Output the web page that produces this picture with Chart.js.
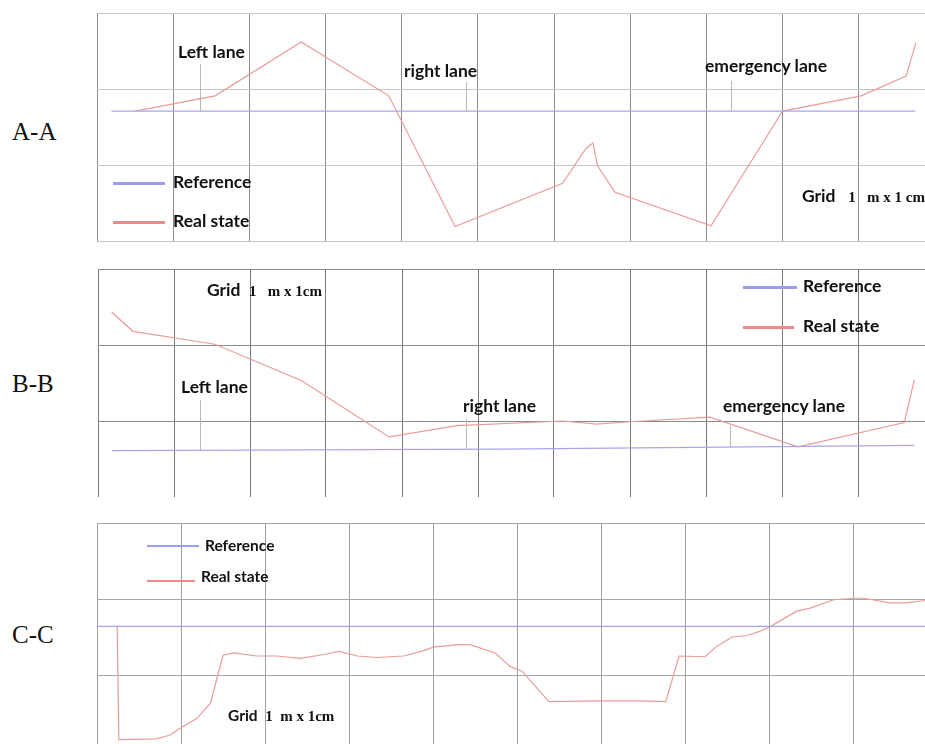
<!DOCTYPE html>
<html>
<head>
<meta charset="utf-8">
<script src="https://cdn.jsdelivr.net/npm/chart.js@4.4.1/dist/chart.umd.min.js"></script>
<style>
  html, body { margin: 0; padding: 0; background: #fff; overflow: hidden; width: 925px; height: 744px; }
  canvas { position: absolute; }
  .lbl { position: absolute; font-family: Lato, "Open Sans", sans-serif; font-weight: 700; font-size: 17.5px; color: #111; white-space: nowrap; line-height: 1; transform: translateY(-55%); }
  .sm { font-size: 15.5px; }
  .sec { position: absolute; font-family: "Liberation Serif", "DejaVu Serif", serif; font-size: 25px; color: #111; line-height: 1; transform: translateY(-50%); }
  .num { font-family: "Liberation Serif", serif; font-size: 15px; }
  .sw { position: absolute; height: 3px; }
  .tick { position: absolute; width: 1px; background: #b8b8b8; }
</style>
</head>
<body>
<div class="sec" style="left:12px; top:131px;">A-A</div>
<div class="sec" style="left:12px; top:383px;">B-B</div>
<div class="sec" style="left:12px; top:634px;">C-C</div>

<canvas id="chartA"></canvas>
<canvas id="chartB"></canvas>
<canvas id="chartC"></canvas>

<!-- A-A labels -->
<div class="tick" style="left:200px; top:64px; height:47px;"></div>
<div class="tick" style="left:466px; top:82px; height:29px;"></div>
<div class="tick" style="left:731px; top:81px; height:30px;"></div>
<div class="lbl" style="left:178px; top:53px;">Left lane</div>
<div class="lbl" style="left:404px; top:72px;">right lane</div>
<div class="lbl" style="left:705px; top:67px;">emergency lane</div>
<div class="sw" style="left:113px; top:182px; width:52px; background:#9d9def;"></div>
<div class="lbl" style="left:173px; top:183px;">Reference</div>
<div class="sw" style="left:113px; top:221px; width:52px; background:#f08a8a;"></div>
<div class="lbl" style="left:173px; top:222px;">Real state</div>
<div class="lbl" style="left:802px; top:197px;">Grid&nbsp;&nbsp;&nbsp;<span class="num">1&nbsp;&nbsp;&nbsp;m x 1 cm</span></div>

<!-- B-B labels -->
<div class="tick" style="left:200px; top:400px; height:50px;"></div>
<div class="tick" style="left:466px; top:419px; height:30px;"></div>
<div class="tick" style="left:730px; top:425px; height:22px;"></div>
<div class="lbl" style="left:207px; top:291px;">Grid&nbsp;&nbsp;<span class="num">1&nbsp;&nbsp;&nbsp;m x 1cm</span></div>
<div class="lbl" style="left:181px; top:388px;">Left lane</div>
<div class="lbl" style="left:463px; top:407px;">right lane</div>
<div class="lbl" style="left:723px; top:407px;">emergency lane</div>
<div class="sw" style="left:743px; top:286px; width:54px; background:#9d9def;"></div>
<div class="lbl" style="left:803px; top:287px;">Reference</div>
<div class="sw" style="left:743px; top:326px; width:51px; background:#f08a8a;"></div>
<div class="lbl" style="left:803px; top:327px;">Real state</div>

<!-- C-C labels -->
<div class="sw" style="left:147px; top:545px; width:52px; height:2px; background:#9d9def;"></div>
<div class="lbl sm" style="left:205px; top:547px;">Reference</div>
<div class="sw" style="left:147px; top:580px; width:48px; height:2px; background:#f08a8a;"></div>
<div class="lbl sm" style="left:201px; top:578px;">Real state</div>
<div class="lbl sm" style="left:228px; top:717px;">Grid&nbsp;&nbsp;<span class="num">1&nbsp;&nbsp;m x 1cm</span></div>

<script>
// section A-A (x in grid squares, y in grid squares from the bottom edge)
const aRefX = [0.19, 10.74];
const aRefY = [1.71, 1.71];
const aRealX = [0.50, 1.55, 2.68, 3.83, 4.70, 6.11, 6.42, 6.51, 6.57, 6.80, 8.06, 9.00, 10.03, 10.62, 10.75];
const aRealY = [1.71, 1.91, 2.62, 1.91, 0.19, 0.76, 1.22, 1.29, 0.99, 0.64, 0.20, 1.71, 1.91, 2.17, 2.61];

// section B-B
const bRefX = [0.18, 5.30, 10.74];
const bRefY = [0.61, 0.63, 0.68];
const bRealX = [0.18, 0.46, 1.54, 2.68, 3.83, 4.72, 6.12, 6.56, 7.00, 8.05, 9.21, 10.61, 10.74];
const bRealY = [2.43, 2.18, 2.01, 1.53, 0.79, 0.94, 1.00, 0.96, 0.99, 1.05, 0.66, 0.98, 1.54];

// section C-C
const cRefX = [0, 10];
const cRefY = [1.64, 1.64];
const cRealX = [0.24, 0.26, 0.71, 0.87, 0.99, 1.19, 1.35, 1.50, 1.63, 1.90, 2.14, 2.42, 2.70, 2.88, 3.10, 3.33,
  3.65, 3.89, 4.01, 4.13, 4.29, 4.44, 4.74, 4.92, 5.06, 5.38, 5.99, 6.47, 6.77, 6.93, 7.24, 7.38, 7.56, 7.74,
  7.88, 8.02, 8.33, 8.49, 8.77, 9.01, 9.13, 9.44, 9.64, 9.86];
const cRealY = [1.64, 0.15, 0.16, 0.21, 0.30, 0.43, 0.63, 1.26, 1.29, 1.25, 1.25, 1.22, 1.27, 1.31, 1.25, 1.23,
  1.25, 1.32, 1.37, 1.38, 1.40, 1.40, 1.29, 1.11, 1.05, 0.65, 0.66, 0.66, 0.65, 1.25, 1.24, 1.38, 1.50, 1.52,
  1.57, 1.64, 1.84, 1.88, 1.99, 2.01, 2.01, 1.95, 1.95, 1.98];

const PAD = 2;

function toPoints(xs, ys) {
  return xs.map((x, i) => ({ x: x, y: ys[i] }));
}

function makePanel(id, box, xMax, refX, refY, realX, realY, vColor, hColor, hideBottom) {
  const cv = document.getElementById(id);
  cv.width = box.w + PAD * 2;
  cv.height = box.h + PAD * 2;
  cv.style.left = (box.left - PAD) + 'px';
  cv.style.top = (box.top - PAD) + 'px';

  return new Chart(cv.getContext('2d'), {
    type: 'line',
    data: {
      datasets: [
        {
          label: 'Reference',
          data: toPoints(refX, refY),
          borderColor: '#a6a6ee',
          borderWidth: 1.2,
          pointRadius: 0,
          tension: 0
        },
        {
          label: 'Real state',
          data: toPoints(realX, realY),
          borderColor: '#e89c9c',
          borderWidth: 1.2,
          pointRadius: 0,
          tension: 0
        }
      ]
    },
    options: {
      responsive: false,
      animation: false,
      events: [],
      layout: { padding: PAD },
      plugins: { legend: { display: false }, tooltip: { enabled: false } },
      scales: {
        x: {
          type: 'linear', min: 0, max: xMax,
          ticks: { display: false, stepSize: 1 },
          grid: { drawTicks: false, color: vColor, lineWidth: 1 },
          border: { display: false }
        },
        y: {
          type: 'linear', min: 0, max: 3,
          ticks: { display: false, stepSize: 1 },
          grid: {
            drawTicks: false, lineWidth: 1,
            color: c => (hideBottom && c.tick && c.tick.value === 0) ? 'rgba(0,0,0,0)' : hColor
          },
          border: { display: false }
        }
      }
    }
  });
}

makePanel('chartA', { left: 97, top: 13, w: 838, h: 228 }, 11, aRefX, aRefY, aRealX, aRealY, '#8c8c8c', '#c6c6c6', false);
makePanel('chartB', { left: 98, top: 269, w: 836, h: 228 }, 11, bRefX, bRefY, bRealX, bRealY, '#7a7a7a', '#8a8a8a', true);
makePanel('chartC', { left: 97, top: 523, w: 840, h: 228 }, 10, cRefX, cRefY, cRealX, cRealY, '#a0a0a0', '#a8a8a8', false);
</script>
</body>
</html>
